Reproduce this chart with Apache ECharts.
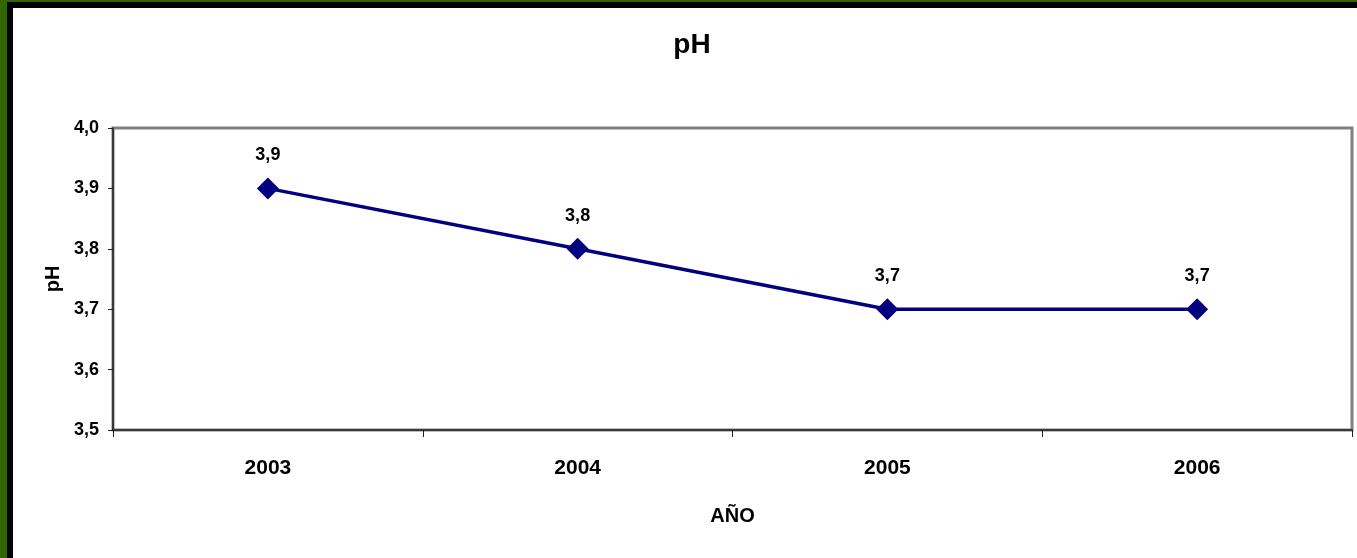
<!DOCTYPE html>
<html>
<head>
<meta charset="utf-8">
<script src="https://cdn.jsdelivr.net/npm/echarts@6/dist/echarts.min.js"></script>
<style>
    html, body {
        margin: 0;
        padding: 0;
        width: 1357px;
        height: 558px;
        overflow: hidden;
        background: #336600;
    }

    .frame {
        position: absolute;
        left: 7px;
        top: 2px;
        right: 0;
        bottom: 0;
        background: #000;
    }

    .paper {
        position: absolute;
        left: 13px;
        top: 8px;
        right: 0;
        bottom: 0;
        background: #fff;
    }

    #chart {
        position: absolute;
        left: 0;
        top: 0;
        width: 1357px;
        height: 558px;
    }
</style>
</head>
<body>
<div class="frame"></div>
<div class="paper"></div>
<div id="chart"></div>
<script>
const years = ['2003', '2004', '2005', '2006']
const phValues = [3.9, 3.8, 3.7, 3.7]
const yMin = 3.5
const yMax = 4.0
const yStep = 0.1

const comma = v => Number(v).toFixed(1).replace('.', ',')
const font = 'Liberation Sans, Arial, sans-serif'

const chart = echarts.init(document.getElementById('chart'))

const option = {
    backgroundColor: 'transparent',
    animation: false,
    textStyle: {
        fontFamily: font
    },
    title: {
        text: 'pH',
        left: 687,
        top: 26,
        textAlign: 'center',
        textStyle: {
            fontFamily: font,
            fontWeight: 'bold',
            fontSize: 28,
            color: '#000'
        }
    },
    grid: {
        left: 113,
        top: 128,
        right: 5,
        bottom: 128,
        show: true,
        borderColor: '#808080',
        borderWidth: 3,
        backgroundColor: 'transparent'
    },
    xAxis: {
        type: 'category',
        data: years,
        boundaryGap: true,
        name: 'AÑO',
        nameLocation: 'middle',
        nameGap: 76,
        nameTextStyle: {
            fontFamily: font,
            fontWeight: 'bold',
            fontSize: 20,
            color: '#000'
        },
        axisLine: {
            lineStyle: {
                color: '#222',
                width: 1.5
            }
        },
        axisTick: {
            show: true,
            alignWithLabel: false,
            length: 7,
            lineStyle: {
                color: '#222'
            }
        },
        axisLabel: {
            margin: 28,
            fontFamily: font,
            fontWeight: 'bold',
            fontSize: 21,
            color: '#000'
        },
        splitLine: {
            show: false
        }
    },
    yAxis: {
        type: 'value',
        min: yMin,
        max: yMax,
        interval: yStep,
        name: 'pH',
        nameLocation: 'middle',
        nameGap: 44,
        nameTextStyle: {
            fontFamily: font,
            fontWeight: 'bold',
            fontSize: 20,
            color: '#000'
        },
        axisLine: {
            show: true,
            lineStyle: {
                color: '#222',
                width: 1.5
            }
        },
        axisTick: {
            show: true,
            length: 5,
            lineStyle: {
                color: '#222'
            }
        },
        axisLabel: {
            margin: 14,
            fontFamily: font,
            fontWeight: 'bold',
            fontSize: 18,
            color: '#000',
            formatter: comma
        },
        splitLine: {
            show: false
        }
    },
    series: [
        {
            name: 'pH',
            type: 'line',
            data: phValues,
            symbol: 'diamond',
            symbolSize: 22,
            lineStyle: {
                color: '#000080',
                width: 3.5
            },
            itemStyle: {
                color: '#000080'
            },
            label: {
                show: true,
                position: 'top',
                distance: 13,
                fontFamily: font,
                fontWeight: 'bold',
                fontSize: 18,
                color: '#000',
                formatter: p => comma(p.value)
            }
        }
    ]
}

chart.setOption(option)
</script>
</body>
</html>
